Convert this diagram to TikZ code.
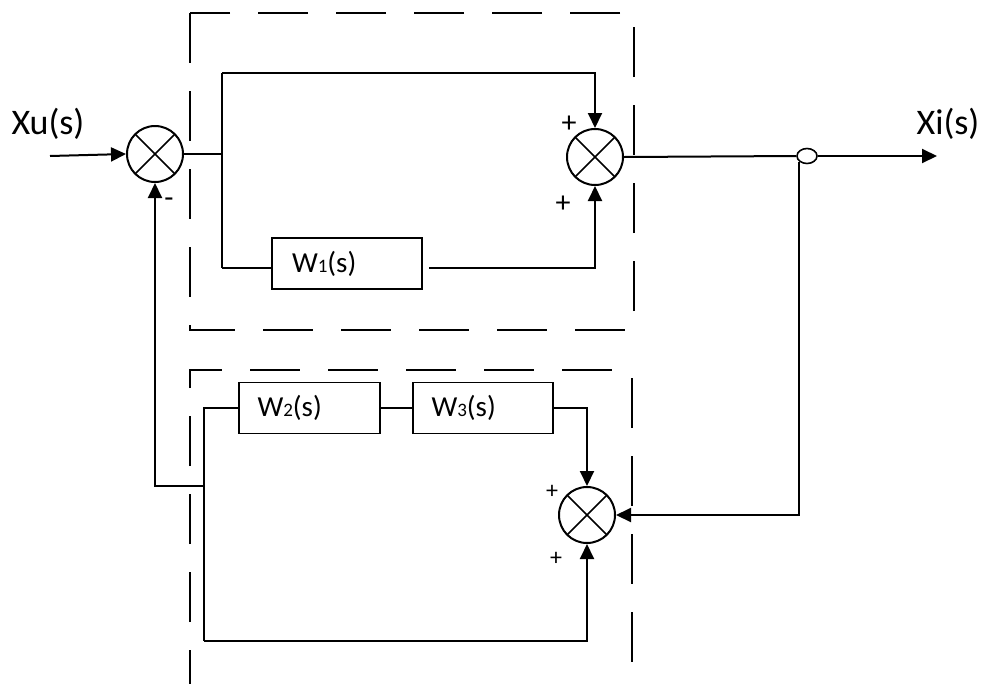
\documentclass[tikz,border=0pt]{standalone}
\usepackage{fontspec}
\setmainfont{Carlito}
\usetikzlibrary{arrows.meta,shapes.geometric}
\newcommand\sbd[1]{{\fontsize{19}{19}\selectfont #1}}
\begin{document}
\begin{tikzpicture}[x=1pt,y=-1pt,
  ln/.style={line width=2pt},
  thin/.style={line width=1.5pt},
  arr/.style={line width=2pt,-{Triangle[length=15pt,width=14pt]}},
  sumj/.style={circle,draw,line width=2pt,minimum size=56pt,inner sep=0pt,
    path picture={\draw[line width=1.6pt]
      (path picture bounding box.north west)--(path picture bounding box.south east)
      (path picture bounding box.north east)--(path picture bounding box.south west);}},
  blk/.style={draw,line width=1.6pt,minimum height=51pt,inner ysep=0pt,align=left,
    font=\fontsize{29}{29}\selectfont},
  dbox/.style={line width=2.2pt,dash pattern=on 50pt off 28pt},
  big/.style={font=\fontsize{36}{36}\selectfont,inner sep=0pt},
  sgn/.style={font=\fontsize{30}{30}\selectfont,inner sep=0pt},
  sgs/.style={font=\fontsize{24}{24}\selectfont,inner sep=0pt}]
\useasboundingbox (0,0) rectangle (985,683);

% dashed boxes
\draw[dbox] (190,13) rectangle (634,330);
\draw[dbox] (190,700) -- (190,370) -- (632,370) -- (632,700);

% summing junctions
\node[sumj] (S1) at (155,154) {};
\node[sumj] (S2) at (595,157) {};
\node[sumj] (S3) at (587,515) {};

% blocks
\node[blk,text width=110pt,inner xsep=20pt] (W1) at (347,263.5) {W\sbd{1}(s)};
\node[blk,text width=104pt,inner xsep=18.5pt] (W2) at (309.5,408) {W\sbd{2}(s)};
\node[blk,text width=103pt,inner xsep=18.5pt] (W3) at (483,408) {W\sbd{3}(s)};

% branch point
\node[ellipse,draw,line width=1.6pt,minimum width=20pt,minimum height=15pt,inner sep=0pt] (br) at (807,156) {};

% labels
\node[big] (lxu) at (48,124) {Xu(s)};
\node[big] (lxi) at (948,124) {Xi(s)};
\node[sgn] (p1) at (569,124) {+};
\node[sgn] (p2) at (563,204) {+};
\node[sgn] (m1) at (169,203) {-};
\node[sgs] (p3) at (552,492) {+};
\node[sgs] (p4) at (556,559) {+};

% coordinates
\coordinate (in) at (50,156);
\coordinate (out) at (937,156);
\coordinate (j1) at (222,154);
\coordinate (j1t) at (222,73);
\coordinate (j1b) at (222,268);
\coordinate (w1o) at (429,268);
\coordinate (k1) at (204,641);
\coordinate (fb) at (204,486);

% connectors
\draw[arr] (in) -- (S1.west);
\draw[ln] (S1.east) -- (j1);
\draw[ln] (j1t) -- (j1b);
\draw[arr] (j1t) -| (S2.north);
\draw[thin] (j1b) -- (W1.west |- j1b);
\draw[arr] (w1o) -| (S2.south);
\draw[ln] (S2.east) -- (br.west);
\draw[arr] (br.east) -- (out);
\draw[arr] (br.south west) |- (S3.east);
\draw[thin] (W2.east) -- (W3.east -| W3.west);
\draw[arr] (W3.east) -| (S3.north);
\draw[thin] (W2.west) -| (k1);
\draw[arr] (k1) -| (S3.south);
\draw[arr] (fb) -| (S1.south);
\end{tikzpicture}
\end{document}
